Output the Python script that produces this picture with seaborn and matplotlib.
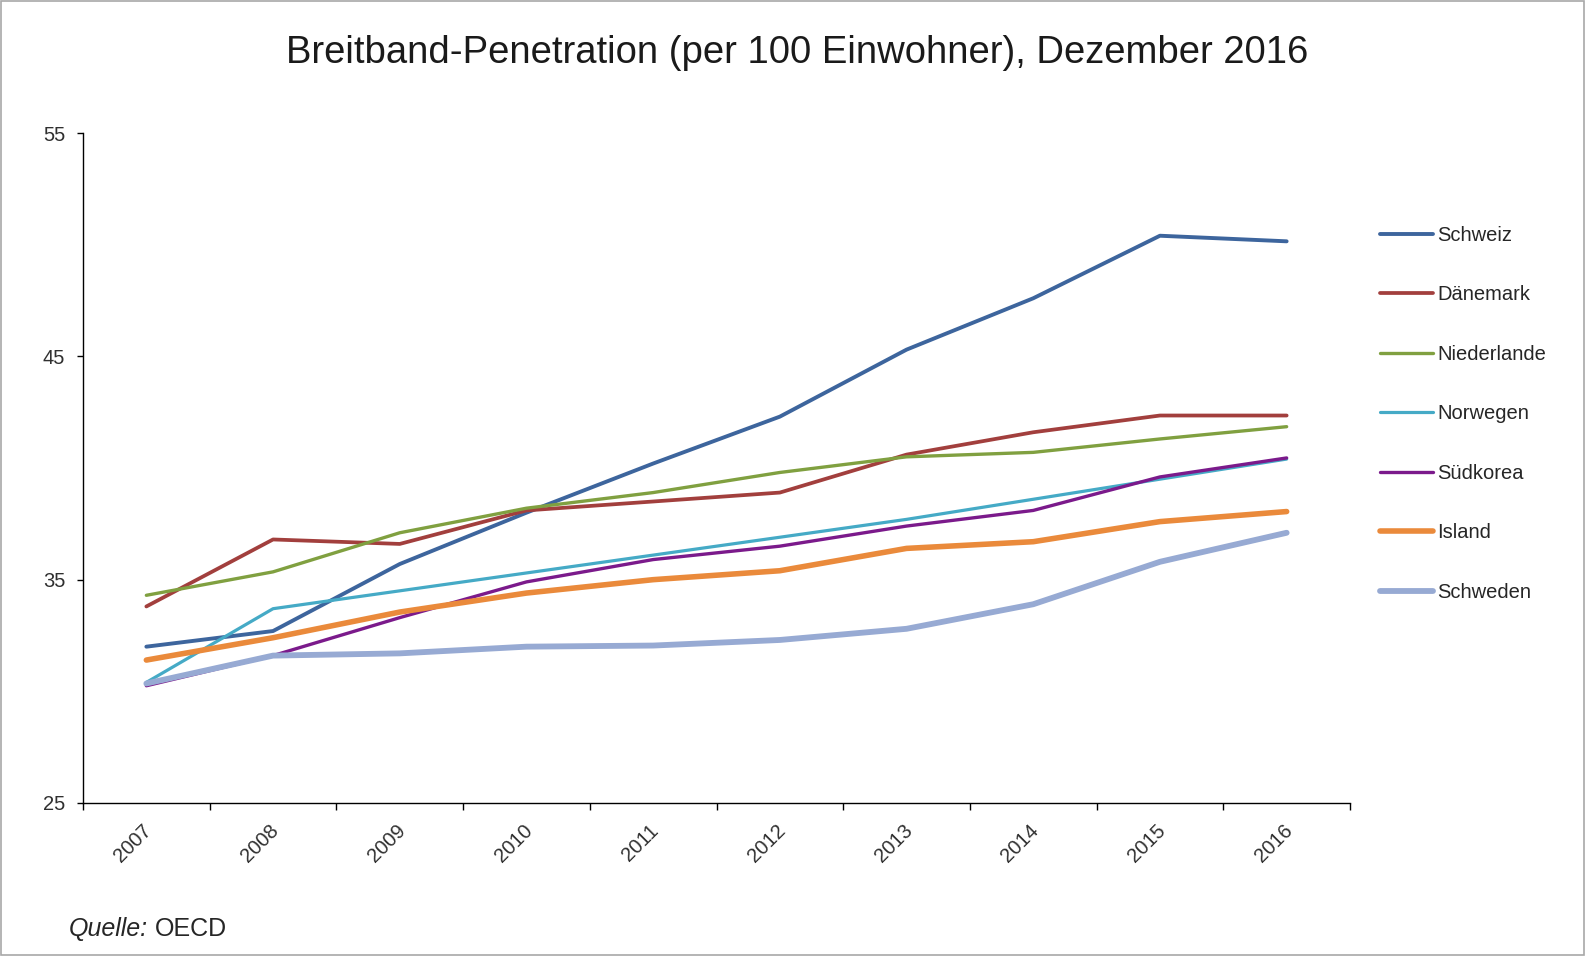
import matplotlib
matplotlib.use("Agg")
import matplotlib.pyplot as plt
import matplotlib.transforms as mtransforms
import seaborn as sns
import pandas as pd
import numpy as np
from matplotlib.patches import Rectangle

years = ["2007", "2008", "2009", "2010", "2011", "2012", "2013", "2014", "2015", "2016"]
schweiz = [32.0, 32.7, 35.7, 38.0, 40.2, 42.3, 45.3, 47.6, 50.4, 50.15]
daenemark = [33.8, 36.8, 36.6, 38.1, 38.5, 38.9, 40.6, 41.6, 42.35, 42.35]
niederlande = [34.3, 35.35, 37.1, 38.2, 38.9, 39.8, 40.5, 40.7, 41.3, 41.85]
norwegen = [30.4, 33.7, 34.5, 35.3, 36.1, 36.9, 37.7, 38.6, 39.5, 40.4]
suedkorea = [30.25, 31.6, 33.3, 34.9, 35.9, 36.5, 37.4, 38.1, 39.6, 40.45]
island = [31.4, 32.4, 33.55, 34.4, 35.0, 35.4, 36.4, 36.7, 37.6, 38.05]
schweden = [30.35, 31.6, 31.7, 32.0, 32.05, 32.3, 32.8, 33.9, 35.8, 37.1]

countries = ["Schweiz", "Dänemark", "Niederlande", "Norwegen", "Südkorea", "Island", "Schweden"]
series = [schweiz, daenemark, niederlande, norwegen, suedkorea, island, schweden]
colors = ["#3d659d", "#a23f3d", "#80a040", "#45aac6", "#7b1a8b", "#ea8a3b", "#97aad3"]
widths = [2.8, 2.7, 2.4, 2.3, 2.4, 4.0, 4.2]

rows = []
for c, vals in zip(countries, series):
    for i, v in enumerate(vals):
        rows.append({"pos": i, "Jahr": years[i], "Land": c, "Wert": v})
df = pd.DataFrame(rows)

sns.set_style("white")
plt.rcParams["font.family"] = ["Liberation Sans", "DejaVu Sans"]

W, H = 1585, 956
fig = plt.figure(figsize=(W / 100, H / 100), dpi=100)
ax = fig.add_axes([83 / W, 1 - 803 / H, (1350 - 83) / W, (803 - 133) / H])

sns.lineplot(data=df, x="pos", y="Wert", hue="Land", hue_order=countries,
             palette=dict(zip(countries, colors)), ax=ax, legend=False)
for line, lw in zip(ax.get_lines(), widths):
    line.set_linewidth(lw)
    line.set_solid_capstyle("round")

tick_color = "#303030"
ax.set_xlim(-0.5, 9.5)
ax.set_ylim(25, 55)
ax.set_yticks([25, 35, 45, 55])
ax.set_yticklabels(["25", "35", "45", "55"], fontsize=14.5, color=tick_color)
ax.set_xticks(np.arange(-0.5, 10, 1.0))
ax.set_xticklabels([])
ax.set_xticks(np.arange(0, 10), minor=True)
ax.set_xticklabels(years, minor=True, rotation=45, ha="right", va="top",
                   rotation_mode="anchor", fontsize=14.5, color=tick_color)
ax.tick_params(axis="x", which="major", bottom=True, direction="out", length=5, width=1, color="black")
ax.tick_params(axis="x", which="minor", bottom=True, length=0, pad=13)
ax.tick_params(axis="y", which="major", left=True, direction="out", length=4.3, width=1,
               color="black", pad=8.5)
ax.set_xlabel("")
ax.set_ylabel("")
for s in ["top", "right"]:
    ax.spines[s].set_visible(False)
for s in ["left", "bottom"]:
    ax.spines[s].set_color("black")
    ax.spines[s].set_linewidth(1)

offset = mtransforms.ScaledTranslation(-4 / 100, 0, fig.dpi_scale_trans)
for lab in ax.get_xticklabels(minor=True):
    lab.set_transform(lab.get_transform() + offset)

handles = [plt.Line2D([], [], color=c, lw=w, solid_capstyle="round") for c, w in zip(colors, widths)]
fig.legend(handles, countries, loc="upper left", bbox_to_anchor=(1380 / W, 1 - 226 / H),
           frameon=False, fontsize=14.5, labelspacing=2.01, handlelength=2.65,
           handletextpad=0.2, borderpad=0, borderaxespad=0, labelcolor="#262626")

fig.text(0.5 * (283 + 1312) / W, 1 - 53 / H, "Breitband-Penetration (per 100 Einwohner), Dezember 2016",
         ha="center", va="center", fontsize=27.5, color="#1a1a1a")
fig.text(69 / W, 1 - 929 / H, "Quelle:", style="italic", fontsize=18,
         ha="left", va="center", color="#262626")
fig.text(155 / W, 1 - 929 / H, "OECD", fontsize=18, ha="left", va="center", color="#262626")

fig.patches.append(Rectangle((0.0006, 0.001), 0.9988, 0.998, transform=fig.transFigure,
                             fill=False, edgecolor="#a8a8a8", lw=1.2))

fig.savefig("out.png", dpi=100)
